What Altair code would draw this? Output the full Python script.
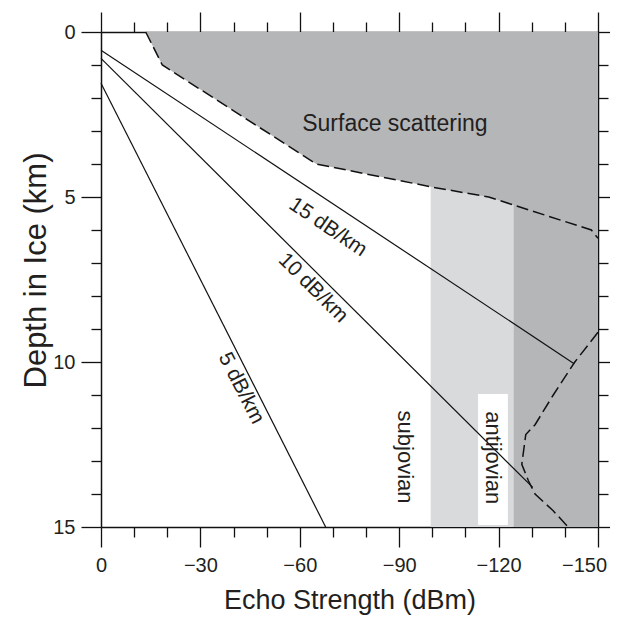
import altair as alt
import pandas as pd

# ---- data ----
# surface-scattering boundary (echo strength dBm, depth km)
surf_x = [-13.5, -18.5, -65, -100, -117, -148, -150]
surf_d = [0.0, 1.0, 4.0, 4.7, 5.0, 6.0, 6.25]

# deep dashed curve
deep_x = [-150, -143, -136.5, -131, -128.2, -127, -129, -131, -136.4, -141]
deep_d = [9.1, 10.0, 11.0, 11.9, 12.2, 13.1, 13.6, 14.0, 14.5, 15.0]

# attenuation lines (two end points each)
att_name = ["15 dB/km", "15 dB/km", "10 dB/km", "10 dB/km", "5 dB/km", "5 dB/km"]
att_x = [0, -142.8, 0, -130.3, 0, -67.8]
att_d = [0.55, 10.05, 0.8, 13.8, 1.55, 15.0]

# shaded bands
band_x1 = [-99.5, -124.5]
band_x2 = [-124.5, -150]
band_d1 = [0, 0]
band_d2 = [15, 15]
band_col = ["#d9dadc", "#b5b6b8"]

# white label box (antijovian)
box_x1, box_x2 = [-113.8], [-122.8]
box_d1, box_d2 = [10.97], [14.94]

# annotations
lab_text = ["Surface scattering", "15 dB/km", "10 dB/km", "5 dB/km", "subjovian", "antijovian"]
lab_x = [-88.7, -68.5, -64.0, -42.3, -91.8, -118.3]
lab_d = [2.8, 5.92, 7.76, 10.8, 12.88, 12.9]
lab_angle = [0, 34, 45, 63, 90, 90]
lab_size = [23, 21, 21, 21, 22, 22]

x_ticks = list(range(0, -151, -10))
y_ticks = list(range(0, 16))

# ---- tables ----
surf_df = pd.DataFrame({"x": surf_x, "d": surf_d, "i": range(len(surf_x))})
deep_df = pd.DataFrame({"x": deep_x, "d": deep_d, "i": range(len(deep_x))})
att_df = pd.DataFrame({"name": att_name, "x": att_x, "d": att_d})
band_light = pd.DataFrame({"x1": band_x1[:1], "x2": band_x2[:1], "d1": band_d1[:1], "d2": band_d2[:1]})
band_dark = pd.DataFrame({"x1": band_x1[1:], "x2": band_x2[1:], "d1": band_d1[1:], "d2": band_d2[1:]})
box_df = pd.DataFrame({"x1": box_x1, "x2": box_x2, "d1": box_d1, "d2": box_d2})
lab_df = pd.DataFrame({"t": lab_text, "x": lab_x, "d": lab_d, "a": lab_angle, "s": lab_size})

xs = alt.Scale(domain=[0, -150], nice=False, zero=False)
ys = alt.Scale(domain=[0, 15], reverse=True, nice=False, zero=False)

x_major = "datum.value % 30 === 0"
y_major = "datum.value % 5 === 0"

def tick_size(test):
    return {"condition": {"test": test, "value": 20}, "value": 10}

ax_bottom = alt.Axis(orient="bottom", values=x_ticks, grid=False,
                     labelExpr=f"{x_major} ? datum.label : ''",
                     tickSize=tick_size(x_major), labelPadding=8, labelFlush=False,
                     labelOffset={"condition": {"test": "datum.value === -150", "value": -14}, "value": 0},
                     title="Echo Strength (dBm)", titlePadding=12, titleFontSize=27)
ax_top = alt.Axis(orient="top", values=x_ticks, grid=False, labels=False,
                  tickSize=tick_size(x_major), title=None)
ax_left = alt.Axis(orient="left", values=y_ticks, grid=False,
                   labelExpr=f"{y_major} ? datum.label : ''",
                   tickSize=tick_size(y_major), labelPadding=6, labelFlush=False,
                   title="Depth in Ice (km)", titlePadding=0, titleFontSize=31, titleY=238)
ax_right = alt.Axis(orient="right", values=y_ticks, grid=False, labels=False,
                    tickSize=tick_size(y_major), title=None)

light = alt.Chart(band_light).mark_rect(color=band_col[0]).encode(
    x=alt.X("x1:Q", scale=xs, axis=ax_bottom), x2="x2",
    y=alt.Y("d1:Q", scale=ys, axis=ax_left), y2="d2")

surf_area = alt.Chart(surf_df).mark_area(color=band_col[1], orient="vertical").encode(
    x=alt.X("x:Q", scale=xs, axis=None),
    y=alt.Y("d:Q", scale=ys, axis=None),
    y2=alt.datum(0))

dark = alt.Chart(band_dark).mark_rect(color=band_col[1]).encode(
    x=alt.X("x1:Q", scale=xs, axis=ax_top), x2="x2",
    y=alt.Y("d1:Q", scale=ys, axis=ax_right), y2="d2")

box = alt.Chart(box_df).mark_rect(color="white").encode(
    x=alt.X("x1:Q", scale=xs, axis=None), x2="x2",
    y=alt.Y("d1:Q", scale=ys, axis=None), y2="d2")

dash_style = dict(color="#111", strokeWidth=1.5, strokeDash=[12, 5])
surf_line = alt.Chart(surf_df).mark_line(**dash_style).encode(
    x=alt.X("x:Q", scale=xs, axis=None), y=alt.Y("d:Q", scale=ys, axis=None),
    order="i:Q")
deep_line = alt.Chart(deep_df).mark_line(**dash_style).encode(
    x=alt.X("x:Q", scale=xs, axis=None), y=alt.Y("d:Q", scale=ys, axis=None),
    order="i:Q")

att = alt.Chart(att_df).mark_line(color="#111", strokeWidth=1.2).encode(
    x=alt.X("x:Q", scale=xs, axis=None), y=alt.Y("d:Q", scale=ys, axis=None),
    detail="name:N")

labels = alt.Chart(lab_df).mark_text(color="#231f20", baseline="middle", align="center").encode(
    x=alt.X("x:Q", scale=xs, axis=None), y=alt.Y("d:Q", scale=ys, axis=None),
    text="t:N", angle=alt.Angle("a:Q", scale=None), size=alt.Size("s:Q", scale=None, legend=None))

chart = alt.layer(light, surf_area, dark, box, surf_line, deep_line, att, labels).properties(
    width=497, height=495,
    autosize=alt.AutoSizeParams(type="none"),
    padding={"left": 93, "top": 24, "right": 12, "bottom": 88},
).configure_view(stroke=None).configure(font="Liberation Sans").configure_axis(
    domainColor="#111", domainWidth=1.5, tickColor="#111", tickWidth=1.3,
    labelFont="Liberation Sans", labelFontSize=20, labelColor="#231f20",
    titleFont="Liberation Sans", titleFontWeight="normal", titleColor="#231f20",
)

chart.save("out.html", embed_options={"renderer": "svg", "actions": False})
